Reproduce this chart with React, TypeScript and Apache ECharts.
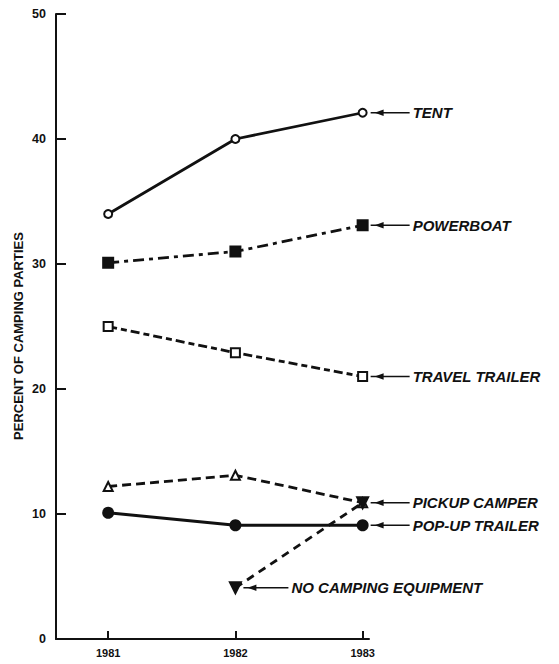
import React, { useEffect, useRef } from 'react';
import * as echarts from 'echarts';

const years = [1981, 1982, 1983];
const tent = [34, 40, 42.1];
const powerboat = [30.1, 31, 33.1];
const travelTrailer = [25, 22.9, 21];
const pickupCamper = [12.2, 13.1, 10.9];
const popupTrailer = [10.1, 9.1, 9.1];
const noCampingYears = [1982, 1983];
const noCamping = [4.1, 10.9];
const yTicks = [0, 10, 20, 30, 40, 50];
const yAxisTitle = 'PERCENT OF CAMPING PARTIES';

const FONT = '"Liberation Sans", Arial, sans-serif';
const INK = '#111';

type S = {
  name: string;
  xs: number[];
  ys: number[];
  symbol: string;
  symbolSize: number;
  rotate?: number;
  dash: number[] | 'solid';
  anchor: number;
};

const seriesDefs: S[] = [
  { name: 'TENT', xs: years, ys: tent, symbol: 'emptyCircle', symbolSize: 8, dash: 'solid', anchor: 2 },
  { name: 'POWERBOAT', xs: years, ys: powerboat, symbol: 'rect', symbolSize: 10, dash: [11, 5, 4, 5], anchor: 2 },
  { name: 'TRAVEL TRAILER', xs: years, ys: travelTrailer, symbol: 'emptyRect', symbolSize: 9, dash: [9, 4, 6, 4], anchor: 2 },
  { name: 'PICKUP CAMPER', xs: years, ys: pickupCamper, symbol: 'emptyTriangle', symbolSize: 9, dash: [9, 5], anchor: 2 },
  { name: 'POP-UP TRAILER', xs: years, ys: popupTrailer, symbol: 'circle', symbolSize: 10, dash: 'solid', anchor: 2 },
  { name: 'NO CAMPING EQUIPMENT', xs: noCampingYears, ys: noCamping, symbol: 'triangle', symbolSize: 11, rotate: 180, dash: [8, 6], anchor: 0 },
];

export default function App() {
  const ref = useRef<HTMLDivElement>(null);
  useEffect(() => {
    if (!ref.current) return;
    const chart = echarts.init(ref.current, null, { renderer: 'svg' });
    chart.setOption({
      animation: false,
      backgroundColor: '#fff',
      grid: { left: 56, right: 190, top: 14, bottom: 25, containLabel: false },
      xAxis: {
        type: 'value',
        min: 1980.59,
        max: 1983.05,
        splitLine: { show: false },
        axisLine: { show: true, lineStyle: { color: INK, width: 2 } },
        axisTick: { show: true, inside: true, length: 8, customValues: years, lineStyle: { color: INK, width: 2 } },
        axisLabel: {
          customValues: years,
          formatter: (v: number) => String(Math.round(v)),
          color: INK,
          fontWeight: 'bold',
          fontSize: 11,
          fontFamily: FONT,
          margin: 8,
        },
      },
      yAxis: {
        type: 'value',
        min: 0,
        max: 50,
        interval: 10,
        splitLine: { show: false },
        axisLine: { show: true, lineStyle: { color: INK, width: 2 } },
        axisTick: { show: true, inside: true, length: 10, lineStyle: { color: INK, width: 2 } },
        axisLabel: {
          customValues: yTicks,
          color: INK,
          fontWeight: 'bold',
          fontSize: 12.5,
          fontFamily: FONT,
          margin: 10,
        },
      },
      series: seriesDefs.map((s) => ({
        type: 'line',
        name: s.name,
        data: s.xs.map((x, i) => [x, s.ys[i]]),
        symbol: s.symbol,
        symbolSize: s.symbolSize,
        symbolRotate: s.rotate || 0,
        showAllSymbol: true,
        clip: false,
        lineStyle: { color: INK, width: 2.8, type: s.dash },
        itemStyle: { color: INK, borderColor: INK, borderWidth: 2 },
        z: 3,
      })),
    });

    const graphics: any[] = [
      {
        type: 'text',
        x: 18,
        y: 336,
        rotation: Math.PI / 2,
        style: {
          text: yAxisTitle,
          fill: INK,
          font: `bold 13px ${FONT}`,
          align: 'center',
          verticalAlign: 'middle',
        },
        z: 10,
      },
    ];
    seriesDefs.forEach((s) => {
      const p = chart.convertToPixel({ gridIndex: 0 }, [s.xs[s.anchor], s.ys[s.anchor]]) as number[];
      const px = p[0];
      const py = p[1];
      const isNC = s.anchor === 0;
      const lineEnd = isNC ? 53 : 47;
      graphics.push({
        type: 'line',
        shape: { x1: px + 8, y1: py, x2: px + lineEnd, y2: py },
        style: { stroke: INK, lineWidth: 1.5 },
        z: 10,
      });
      graphics.push({
        type: 'polygon',
        shape: { points: [[px + 12, py], [px + 21, py - 3.2], [px + 21, py + 3.2]] },
        style: { fill: INK },
        z: 10,
      });
      graphics.push({
        type: 'text',
        x: px + lineEnd + 3,
        y: py,
        style: {
          text: s.name,
          fill: INK,
          font: `italic bold 15px ${FONT}`,
          verticalAlign: 'middle',
          align: 'left',
        },
        z: 10,
      });
    });
    chart.setOption({ graphic: graphics });

    return () => chart.dispose();
  }, []);
  return <div ref={ref} style={{ position: 'fixed', left: 0, top: 0, width: 559, height: 664, background: '#fff' }} />;
}
